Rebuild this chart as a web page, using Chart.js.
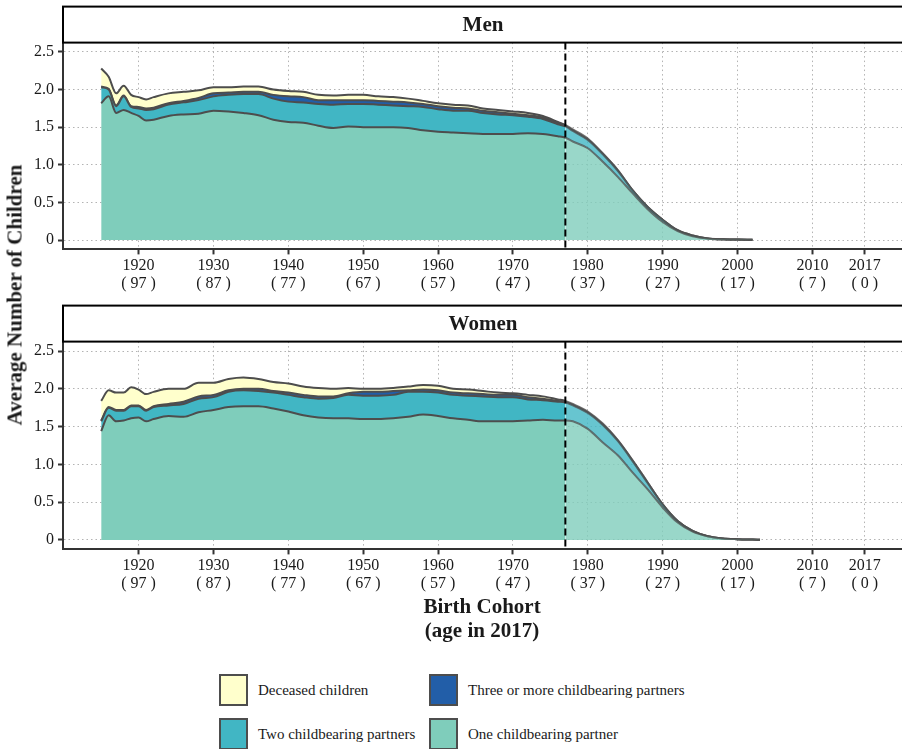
<!DOCTYPE html>
<html>
<head>
<meta charset="utf-8">
<script src="https://cdn.jsdelivr.net/npm/chart.js@4.4.1/dist/chart.umd.min.js"></script>
<style>
  html, body { margin: 0; padding: 0; background: #fff; width: 902px; height: 749px; overflow: hidden; }
  body { position: relative; font-family: "Liberation Serif", "Times New Roman", serif; color: #1a1a1a; }
  canvas { position: absolute; left: 0; }
  #menChart { top: 0; }
  #womenChart { top: 300px; }
  .ytitle { position: absolute; left: 15px; top: 295px; transform: translate(-50%, -50%) rotate(-90deg); font-weight: bold; font-size: 21px; white-space: nowrap; }
  .xtitle { position: absolute; left: 482px; top: 594px; transform: translateX(-50%); font-weight: bold; font-size: 21px; line-height: 24px; text-align: center; white-space: nowrap; }
  .key { position: absolute; width: 29px; height: 32px; border: 2.5px solid #4d4d4d; box-sizing: border-box; }
  .lab { position: absolute; font-size: 15px; line-height: 18px; white-space: nowrap; }
</style>
</head>
<body>
<canvas id="menChart" width="904" height="300"></canvas>
<canvas id="womenChart" width="904" height="300"></canvas>
<div class="ytitle">Average Number of Children</div>
<div class="xtitle">Birth Cohort<br>(age in 2017)</div>
<div id="legend"></div>
<script>
// birth cohorts
const menYears = [1915, 1916, 1917, 1918, 1919, 1920, 1921, 1922, 1924, 1926, 1928, 1930, 1932, 1934, 1936, 1938, 1940, 1942, 1944, 1946, 1948, 1950, 1952, 1954, 1956, 1958, 1960, 1962, 1964, 1966, 1968, 1970, 1972, 1974, 1976, 1977, 1978, 1980, 1982, 1984, 1986, 1988, 1990, 1992, 1994, 1996, 1998, 2000, 2002];
const womenYears = [1915, 1916, 1917, 1918, 1919, 1920, 1921, 1922, 1924, 1926, 1928, 1930, 1932, 1934, 1936, 1938, 1940, 1942, 1944, 1946, 1948, 1950, 1952, 1954, 1956, 1958, 1960, 1962, 1964, 1966, 1968, 1970, 1972, 1974, 1976, 1977, 1978, 1980, 1982, 1984, 1986, 1988, 1990, 1992, 1994, 1996, 1998, 2000, 2002, 2003];

// men
const menOne = [1.82, 1.91, 1.69, 1.73, 1.69, 1.65, 1.59, 1.60, 1.65, 1.67, 1.68, 1.72, 1.71, 1.69, 1.66, 1.60, 1.57, 1.56, 1.52, 1.49, 1.51, 1.50, 1.50, 1.50, 1.49, 1.46, 1.44, 1.43, 1.42, 1.41, 1.41, 1.41, 1.42, 1.41, 1.38, 1.36, 1.31, 1.22, 1.04, 0.84, 0.62, 0.41, 0.24, 0.12, 0.05, 0.02, 0.01, 0.005, 0.003];
const menTwo = [0.21, 0.09, 0.09, 0.18, 0.08, 0.10, 0.14, 0.14, 0.15, 0.16, 0.18, 0.19, 0.22, 0.25, 0.28, 0.28, 0.27, 0.27, 0.29, 0.31, 0.30, 0.31, 0.30, 0.29, 0.29, 0.31, 0.30, 0.29, 0.30, 0.28, 0.26, 0.25, 0.22, 0.20, 0.16, 0.15, 0.14, 0.11, 0.10, 0.08, 0.04, 0.03, 0.03, 0.01, 0.01, 0, 0, 0, 0];
const menThree = [0.01, 0.01, 0.01, 0.01, 0.01, 0.02, 0.02, 0.02, 0.02, 0.02, 0.03, 0.04, 0.03, 0.03, 0.03, 0.05, 0.07, 0.07, 0.05, 0.06, 0.05, 0.05, 0.05, 0.05, 0.05, 0.04, 0.04, 0.04, 0.03, 0.03, 0.03, 0.02, 0.02, 0.02, 0.02, 0.01, 0.01, 0.01, 0.01, 0.01, 0, 0, 0, 0, 0, 0, 0, 0, 0];
const menDeceased = [0.24, 0.16, 0.16, 0.13, 0.15, 0.13, 0.12, 0.14, 0.13, 0.12, 0.10, 0.08, 0.07, 0.07, 0.07, 0.07, 0.07, 0.07, 0.07, 0.06, 0.07, 0.07, 0.06, 0.06, 0.05, 0.04, 0.04, 0.04, 0.04, 0.03, 0.03, 0.03, 0.03, 0.02, 0.01, 0.01, 0.01, 0.01, 0, 0, 0, 0, 0, 0, 0, 0, 0, 0, 0];

// women
const womenOne = [1.44, 1.65, 1.57, 1.58, 1.61, 1.62, 1.57, 1.60, 1.64, 1.63, 1.69, 1.72, 1.76, 1.77, 1.77, 1.74, 1.70, 1.65, 1.62, 1.61, 1.61, 1.60, 1.60, 1.61, 1.63, 1.66, 1.64, 1.61, 1.59, 1.57, 1.57, 1.57, 1.58, 1.59, 1.58, 1.58, 1.57, 1.47, 1.29, 1.12, 0.89, 0.67, 0.43, 0.23, 0.11, 0.05, 0.02, 0.01, 0.005, 0.003];
const womenTwo = [0.13, 0.10, 0.14, 0.13, 0.16, 0.15, 0.14, 0.16, 0.14, 0.17, 0.18, 0.17, 0.20, 0.21, 0.20, 0.21, 0.22, 0.24, 0.25, 0.27, 0.31, 0.31, 0.31, 0.31, 0.33, 0.30, 0.31, 0.31, 0.32, 0.33, 0.32, 0.32, 0.28, 0.26, 0.25, 0.24, 0.21, 0.21, 0.23, 0.19, 0.15, 0.08, 0.04, 0.02, 0.01, 0, 0, 0, 0, 0];
const womenThree = [0.01, 0.01, 0.01, 0.01, 0.01, 0.01, 0.01, 0.01, 0.02, 0.03, 0.03, 0.03, 0.02, 0.02, 0.03, 0.02, 0.03, 0.03, 0.03, 0.02, 0.02, 0.05, 0.05, 0.05, 0.02, 0.03, 0.03, 0.03, 0.03, 0.03, 0.03, 0.03, 0.03, 0.02, 0.01, 0.01, 0.01, 0.01, 0.01, 0.01, 0.01, 0.01, 0, 0, 0, 0, 0, 0, 0, 0];
const womenDeceased = [0.26, 0.22, 0.23, 0.23, 0.24, 0.21, 0.21, 0.19, 0.20, 0.17, 0.18, 0.16, 0.15, 0.15, 0.13, 0.12, 0.12, 0.11, 0.11, 0.10, 0.07, 0.04, 0.04, 0.04, 0.05, 0.06, 0.06, 0.05, 0.05, 0.04, 0.03, 0.02, 0.03, 0.03, 0.02, 0.01, 0.01, 0.01, 0.01, 0, 0, 0, 0, 0, 0, 0, 0, 0, 0, 0];

const seriesNames = ["One childbearing partner", "Two childbearing partners", "Three or more childbearing partners", "Deceased children"];
const tickYears = [1920, 1930, 1940, 1950, 1960, 1970, 1980, 1990, 2000, 2010, 2017];
const tickAges = ["( 97 )", "( 87 )", "( 77 )", "( 67 )", "( 57 )", "( 47 )", "( 37 )", "( 27 )", "( 17 )", "( 7 )", "( 0 )"];
const yTicks = [0, 0.5, 1, 1.5, 2, 2.5];
const cutYear = 1977;

const colors = ["#7fcdbb", "#41b6c4", "#225ea8", "#ffffcc"];
const faded = ["rgba(127,205,187,0.8)", "rgba(65,182,196,0.8)", "rgba(34,94,168,0.8)", "rgba(255,255,204,0.8)"];
const lineCol = "#4d4d4d";
const lineFaded = "rgba(77,77,77,0.75)";
const serif = "'Liberation Serif', 'Times New Roman', serif";

const stripPlugin = {
  id: "strip",
  afterDraw(chart, args, opts) {
    const {ctx, chartArea: a} = chart;
    ctx.save();
    ctx.fillStyle = "#fff";
    ctx.fillRect(a.left, a.top - 36, a.right - a.left, 36);
    ctx.strokeStyle = "#000";
    ctx.lineWidth = 2;
    ctx.strokeRect(a.left, a.top - 36, a.right - a.left, 36);
    ctx.fillStyle = "#1a1a1a";
    ctx.font = "bold 21px " + serif;
    ctx.textAlign = "center";
    ctx.textBaseline = "middle";
    ctx.fillText(opts.text, (a.left + a.right) / 2, a.top - 17);
    ctx.restore();
  }
};

const cutLine = {
  id: "cutLine",
  afterDatasetsDraw(chart) {
    const {ctx, chartArea: a, scales} = chart;
    const x = scales.x.getPixelForValue(cutYear);
    ctx.save();
    ctx.strokeStyle = "#000";
    ctx.lineWidth = 2;
    ctx.setLineDash([7, 4]);
    ctx.beginPath();
    ctx.moveTo(x, a.top);
    ctx.lineTo(x, a.bottom);
    ctx.stroke();
    ctx.restore();
  }
};

function makePanel(id, title, years, one, two, three, dead, padTop) {
  const values = [one, two, three, dead];
  const datasets = values.map((vals, i) => ({
    label: seriesNames[i],
    data: vals.map((v, j) => ({x: years[j], y: v})),
    backgroundColor: colors[i],
    borderColor: lineCol,
    borderWidth: 2,
    borderJoinStyle: "round",
    pointRadius: 0,
    fill: i === 0 ? "origin" : "-1",
    cubicInterpolationMode: "monotone",
    segment: {
      backgroundColor: c => years[c.p0DataIndex] >= cutYear ? faded[i] : colors[i],
      borderColor: c => years[c.p0DataIndex] >= cutYear ? lineFaded : lineCol
    }
  }));

  new Chart(document.getElementById(id), {
    type: "line",
    data: {datasets},
    options: {
      responsive: false,
      animation: false,
      devicePixelRatio: 1,
      layout: {padding: {top: padTop, right: 1, left: 0, bottom: 0}},
      plugins: {legend: {display: false}, tooltip: {enabled: false}, strip: {text: title}},
      scales: {
        x: {
          type: "linear",
          min: 1909.9,
          max: 2022.1,
          afterBuildTicks: s => { s.ticks = tickYears.map(v => ({value: v})); },
          afterFit: s => { s.height = 50.6; },
          ticks: {
            autoSkip: false,
            maxRotation: 0,
            padding: 3,
            color: "#1a1a1a",
            font: {family: serif, size: 16, lineHeight: 1.1},
            callback: v => [String(v), tickAges[tickYears.indexOf(v)]]
          },
          grid: {color: "#b3b3b3", lineWidth: 1, tickColor: "#333", tickLength: 5, tickWidth: 2, tickBorderDash: []},
          border: {display: true, color: "#333", width: 2, dash: [1.5, 3]}
        },
        y: {
          type: "linear",
          stacked: true,
          min: -0.125,
          max: 2.625,
          afterBuildTicks: s => { s.ticks = yTicks.map(v => ({value: v})); },
          afterFit: s => { s.width = 63; },
          ticks: {
            padding: 4,
            color: "#1a1a1a",
            font: {family: serif, size: 16},
            callback: v => v === 0 ? "0" : v.toFixed(1)
          },
          grid: {color: "#b3b3b3", lineWidth: 1, tickColor: "#333", tickLength: 5, tickWidth: 2, tickBorderDash: []},
          border: {display: true, color: "#333", width: 2, dash: [1.5, 3]}
        }
      }
    },
    plugins: [stripPlugin, cutLine]
  });
}

makePanel("menChart", "Men", menYears, menOne, menTwo, menThree, menDeceased, 42.6);
makePanel("womenChart", "Women", womenYears, womenOne, womenTwo, womenThree, womenDeceased, 41.6);

// legend (2 x 2, as in the original figure)
const legendOrder = [3, 2, 1, 0];
const legendPos = [[219, 674], [429, 674], [219, 718], [429, 718]];
const legend = document.getElementById("legend");
legendOrder.forEach((s, k) => {
  const [x, y] = legendPos[k];
  const key = document.createElement("div");
  key.className = "key";
  key.style.left = x + "px";
  key.style.top = y + "px";
  key.style.background = colors[s];
  const lab = document.createElement("div");
  lab.className = "lab";
  lab.style.left = (x + 39) + "px";
  lab.style.top = (y + 7) + "px";
  lab.textContent = seriesNames[s];
  legend.appendChild(key);
  legend.appendChild(lab);
});
</script>
</body>
</html>
